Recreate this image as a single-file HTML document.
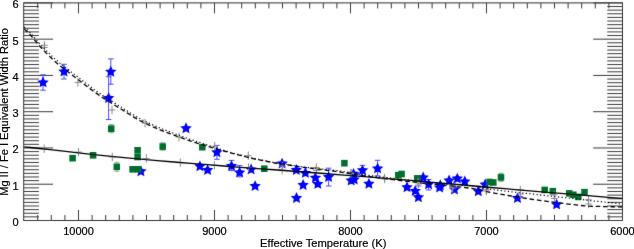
<!DOCTYPE html>
<html><head><meta charset="utf-8"><style>
html,body{margin:0;padding:0;background:#fff;overflow:hidden;}
svg{display:block;}
text{font-family:"Liberation Sans",sans-serif;font-size:11px;fill:#000;}
</style></head><body>
<svg width="634" height="249" viewBox="0 0 634 249">
<defs><filter id="t"><feOffset dx="0" dy="0"/></filter><filter id="b" x="-5%" y="-5%" width="110%" height="110%"><feConvolveMatrix order="3" kernelMatrix="0.0064 0.0672 0.0064 0.0672 0.7056 0.0672 0.0064 0.0672 0.0064" divisor="1" edgeMode="none"/></filter><filter id="a" x="-5%" y="-5%" width="110%" height="110%"><feConvolveMatrix order="3" kernelMatrix="0.0064 0.0672 0.0064 0.0672 0.7056 0.0672 0.0064 0.0672 0.0064" divisor="1" edgeMode="none"/></filter></defs>
<g filter="url(#a)">
<rect x="23.70" y="2.90" width="598.80" height="217.60" fill="none" stroke="#333" stroke-width="1"/>
<path d="M37.70,220.50V215.00M37.70,2.90V8.40M51.30,220.50V215.00M51.30,2.90V8.40M64.90,220.50V215.00M64.90,2.90V8.40M78.50,220.50V210.00M78.50,2.90V13.40M92.10,220.50V215.00M92.10,2.90V8.40M105.70,220.50V215.00M105.70,2.90V8.40M119.30,220.50V215.00M119.30,2.90V8.40M132.90,220.50V215.00M132.90,2.90V8.40M146.50,220.50V215.00M146.50,2.90V8.40M160.10,220.50V215.00M160.10,2.90V8.40M173.70,220.50V215.00M173.70,2.90V8.40M187.30,220.50V215.00M187.30,2.90V8.40M200.90,220.50V215.00M200.90,2.90V8.40M214.50,220.50V210.00M214.50,2.90V13.40M228.10,220.50V215.00M228.10,2.90V8.40M241.70,220.50V215.00M241.70,2.90V8.40M255.30,220.50V215.00M255.30,2.90V8.40M268.90,220.50V215.00M268.90,2.90V8.40M282.50,220.50V215.00M282.50,2.90V8.40M296.10,220.50V215.00M296.10,2.90V8.40M309.70,220.50V215.00M309.70,2.90V8.40M323.30,220.50V215.00M323.30,2.90V8.40M336.90,220.50V215.00M336.90,2.90V8.40M350.50,220.50V210.00M350.50,2.90V13.40M364.10,220.50V215.00M364.10,2.90V8.40M377.70,220.50V215.00M377.70,2.90V8.40M391.30,220.50V215.00M391.30,2.90V8.40M404.90,220.50V215.00M404.90,2.90V8.40M418.50,220.50V215.00M418.50,2.90V8.40M432.10,220.50V215.00M432.10,2.90V8.40M445.70,220.50V215.00M445.70,2.90V8.40M459.30,220.50V215.00M459.30,2.90V8.40M472.90,220.50V215.00M472.90,2.90V8.40M486.50,220.50V210.00M486.50,2.90V13.40M500.10,220.50V215.00M500.10,2.90V8.40M513.70,220.50V215.00M513.70,2.90V8.40M527.30,220.50V215.00M527.30,2.90V8.40M540.90,220.50V215.00M540.90,2.90V8.40M554.50,220.50V215.00M554.50,2.90V8.40M568.10,220.50V215.00M568.10,2.90V8.40M581.70,220.50V215.00M581.70,2.90V8.40M595.30,220.50V215.00M595.30,2.90V8.40M608.90,220.50V215.00M608.90,2.90V8.40M622.50,220.50V210.00M622.50,2.90V13.40M23.70,220.50H53.00M622.50,220.50H593.20M23.70,216.87H38.90M622.50,216.87H607.30M23.70,213.25H38.90M622.50,213.25H607.30M23.70,209.62H38.90M622.50,209.62H607.30M23.70,205.99H38.90M622.50,205.99H607.30M23.70,202.37H38.90M622.50,202.37H607.30M23.70,198.74H38.90M622.50,198.74H607.30M23.70,195.11H38.90M622.50,195.11H607.30M23.70,191.49H38.90M622.50,191.49H607.30M23.70,187.86H38.90M622.50,187.86H607.30M23.70,184.23H53.00M622.50,184.23H593.20M23.70,180.61H38.90M622.50,180.61H607.30M23.70,176.98H38.90M622.50,176.98H607.30M23.70,173.35H38.90M622.50,173.35H607.30M23.70,169.73H38.90M622.50,169.73H607.30M23.70,166.10H38.90M622.50,166.10H607.30M23.70,162.47H38.90M622.50,162.47H607.30M23.70,158.85H38.90M622.50,158.85H607.30M23.70,155.22H38.90M622.50,155.22H607.30M23.70,151.59H38.90M622.50,151.59H607.30M23.70,147.97H53.00M622.50,147.97H593.20M23.70,144.34H38.90M622.50,144.34H607.30M23.70,140.71H38.90M622.50,140.71H607.30M23.70,137.09H38.90M622.50,137.09H607.30M23.70,133.46H38.90M622.50,133.46H607.30M23.70,129.83H38.90M622.50,129.83H607.30M23.70,126.21H38.90M622.50,126.21H607.30M23.70,122.58H38.90M622.50,122.58H607.30M23.70,118.95H38.90M622.50,118.95H607.30M23.70,115.33H38.90M622.50,115.33H607.30M23.70,111.70H53.00M622.50,111.70H593.20M23.70,108.07H38.90M622.50,108.07H607.30M23.70,104.45H38.90M622.50,104.45H607.30M23.70,100.82H38.90M622.50,100.82H607.30M23.70,97.19H38.90M622.50,97.19H607.30M23.70,93.57H38.90M622.50,93.57H607.30M23.70,89.94H38.90M622.50,89.94H607.30M23.70,86.31H38.90M622.50,86.31H607.30M23.70,82.69H38.90M622.50,82.69H607.30M23.70,79.06H38.90M622.50,79.06H607.30M23.70,75.43H53.00M622.50,75.43H593.20M23.70,71.81H38.90M622.50,71.81H607.30M23.70,68.18H38.90M622.50,68.18H607.30M23.70,64.55H38.90M622.50,64.55H607.30M23.70,60.93H38.90M622.50,60.93H607.30M23.70,57.30H38.90M622.50,57.30H607.30M23.70,53.67H38.90M622.50,53.67H607.30M23.70,50.05H38.90M622.50,50.05H607.30M23.70,46.42H38.90M622.50,46.42H607.30M23.70,42.79H38.90M622.50,42.79H607.30M23.70,39.17H53.00M622.50,39.17H593.20M23.70,35.54H38.90M622.50,35.54H607.30M23.70,31.91H38.90M622.50,31.91H607.30M23.70,28.29H38.90M622.50,28.29H607.30M23.70,24.66H38.90M622.50,24.66H607.30M23.70,21.03H38.90M622.50,21.03H607.30M23.70,17.41H38.90M622.50,17.41H607.30M23.70,13.78H38.90M622.50,13.78H607.30M23.70,10.15H38.90M622.50,10.15H607.30M23.70,6.53H38.90M622.50,6.53H607.30M23.70,2.90H53.00M622.50,2.90H593.20" stroke="#3c3c3c" stroke-width="1" fill="none"/>
</g>
<g filter="url(#b)">
<path d="M43.00,74.80V90.20M40.20,74.80h5.6M40.20,90.20h5.6" stroke="#4a4aff" stroke-width="1" fill="none"/>
<path d="M64.00,64.30V79.00M61.20,64.30h5.6M61.20,79.00h5.6" stroke="#4a4aff" stroke-width="1" fill="none"/>
<path d="M110.80,58.90V84.20M108.00,58.90h5.6M108.00,84.20h5.6" stroke="#4a4aff" stroke-width="1" fill="none"/>
<path d="M108.60,76.80V119.50M105.80,76.80h5.6M105.80,119.50h5.6" stroke="#4a4aff" stroke-width="1" fill="none"/>
<path d="M216.90,145.40V159.30M214.10,145.40h5.6M214.10,159.30h5.6" stroke="#4a4aff" stroke-width="1" fill="none"/>
<path d="M231.50,160.40V170.60M228.70,160.40h5.6M228.70,170.60h5.6" stroke="#4a4aff" stroke-width="1" fill="none"/>
<path d="M239.60,165.60V176.90M236.80,165.60h5.6M236.80,176.90h5.6" stroke="#4a4aff" stroke-width="1" fill="none"/>
<path d="M328.60,168.20V186.00M325.80,168.20h5.6M325.80,186.00h5.6" stroke="#4a4aff" stroke-width="1" fill="none"/>
<path d="M362.50,165.40V175.40M359.70,165.40h5.6M359.70,175.40h5.6" stroke="#4a4aff" stroke-width="1" fill="none"/>
<path d="M377.60,160.30V175.90M374.80,160.30h5.6M374.80,175.90h5.6" stroke="#4a4aff" stroke-width="1" fill="none"/>
<path d="M428.60,179.50V190.00M425.80,179.50h5.6M425.80,190.00h5.6" stroke="#4a4aff" stroke-width="1" fill="none"/>
<path d="M418.60,176.00V186.00M415.80,176.00h5.6M415.80,186.00h5.6" stroke="#4a4aff" stroke-width="1" fill="none"/>
<path d="M43.00,76.50 L44.70,80.15 L48.71,80.65 L45.76,83.40 L46.53,87.35 L43.00,85.40 L39.47,87.35 L40.24,83.40 L37.29,80.65 L41.30,80.15Z" fill="#0000ff"/>
<path d="M64.00,65.60 L65.70,69.25 L69.71,69.75 L66.76,72.50 L67.53,76.45 L64.00,74.50 L60.47,76.45 L61.24,72.50 L58.29,69.75 L62.30,69.25Z" fill="#0000ff"/>
<path d="M110.80,65.80 L112.50,69.45 L116.51,69.95 L113.56,72.70 L114.33,76.65 L110.80,74.70 L107.27,76.65 L108.04,72.70 L105.09,69.95 L109.10,69.45Z" fill="#0000ff"/>
<path d="M108.60,92.20 L110.30,95.85 L114.31,96.35 L111.36,99.10 L112.13,103.05 L108.60,101.10 L105.07,103.05 L105.84,99.10 L102.89,96.35 L106.90,95.85Z" fill="#0000ff"/>
<path d="M186.00,122.30 L187.70,125.95 L191.71,126.45 L188.76,129.20 L189.53,133.15 L186.00,131.20 L182.47,133.15 L183.24,129.20 L180.29,126.45 L184.30,125.95Z" fill="#0000ff"/>
<path d="M140.90,165.40 L142.60,169.05 L146.61,169.55 L143.66,172.30 L144.43,176.25 L140.90,174.30 L137.37,176.25 L138.14,172.30 L135.19,169.55 L139.20,169.05Z" fill="#0000ff"/>
<path d="M199.90,160.40 L201.60,164.05 L205.61,164.55 L202.66,167.30 L203.43,171.25 L199.90,169.30 L196.37,171.25 L197.14,167.30 L194.19,164.55 L198.20,164.05Z" fill="#0000ff"/>
<path d="M207.60,164.20 L209.30,167.85 L213.31,168.35 L210.36,171.10 L211.13,175.05 L207.60,173.10 L204.07,175.05 L204.84,171.10 L201.89,168.35 L205.90,167.85Z" fill="#0000ff"/>
<path d="M216.90,146.40 L218.60,150.05 L222.61,150.55 L219.66,153.30 L220.43,157.25 L216.90,155.30 L213.37,157.25 L214.14,153.30 L211.19,150.55 L215.20,150.05Z" fill="#0000ff"/>
<path d="M231.50,160.00 L233.20,163.65 L237.21,164.15 L234.26,166.90 L235.03,170.85 L231.50,168.90 L227.97,170.85 L228.74,166.90 L225.79,164.15 L229.80,163.65Z" fill="#0000ff"/>
<path d="M239.60,166.50 L241.30,170.15 L245.31,170.65 L242.36,173.40 L243.13,177.35 L239.60,175.40 L236.07,177.35 L236.84,173.40 L233.89,170.65 L237.90,170.15Z" fill="#0000ff"/>
<path d="M251.10,163.50 L252.80,167.15 L256.81,167.65 L253.86,170.40 L254.63,174.35 L251.10,172.40 L247.57,174.35 L248.34,170.40 L245.39,167.65 L249.40,167.15Z" fill="#0000ff"/>
<path d="M255.10,180.20 L256.80,183.85 L260.81,184.35 L257.86,187.10 L258.63,191.05 L255.10,189.10 L251.57,191.05 L252.34,187.10 L249.39,184.35 L253.40,183.85Z" fill="#0000ff"/>
<path d="M282.10,157.70 L283.80,161.35 L287.81,161.85 L284.86,164.60 L285.63,168.55 L282.10,166.60 L278.57,168.55 L279.34,164.60 L276.39,161.85 L280.40,161.35Z" fill="#0000ff"/>
<path d="M296.30,164.10 L298.00,167.75 L302.01,168.25 L299.06,171.00 L299.83,174.95 L296.30,173.00 L292.77,174.95 L293.54,171.00 L290.59,168.25 L294.60,167.75Z" fill="#0000ff"/>
<path d="M305.40,167.00 L307.10,170.65 L311.11,171.15 L308.16,173.90 L308.93,177.85 L305.40,175.90 L301.87,177.85 L302.64,173.90 L299.69,171.15 L303.70,170.65Z" fill="#0000ff"/>
<path d="M315.40,171.80 L317.10,175.45 L321.11,175.95 L318.16,178.70 L318.93,182.65 L315.40,180.70 L311.87,182.65 L312.64,178.70 L309.69,175.95 L313.70,175.45Z" fill="#0000ff"/>
<path d="M317.80,178.00 L319.50,181.65 L323.51,182.15 L320.56,184.90 L321.33,188.85 L317.80,186.90 L314.27,188.85 L315.04,184.90 L312.09,182.15 L316.10,181.65Z" fill="#0000ff"/>
<path d="M303.10,179.10 L304.80,182.75 L308.81,183.25 L305.86,186.00 L306.63,189.95 L303.10,188.00 L299.57,189.95 L300.34,186.00 L297.39,183.25 L301.40,182.75Z" fill="#0000ff"/>
<path d="M296.50,192.10 L298.20,195.75 L302.21,196.25 L299.26,199.00 L300.03,202.95 L296.50,201.00 L292.97,202.95 L293.74,199.00 L290.79,196.25 L294.80,195.75Z" fill="#0000ff"/>
<path d="M328.60,171.20 L330.30,174.85 L334.31,175.35 L331.36,178.10 L332.13,182.05 L328.60,180.10 L325.07,182.05 L325.84,178.10 L322.89,175.35 L326.90,174.85Z" fill="#0000ff"/>
<path d="M353.50,167.90 L355.20,171.55 L359.21,172.05 L356.26,174.80 L357.03,178.75 L353.50,176.80 L349.97,178.75 L350.74,174.80 L347.79,172.05 L351.80,171.55Z" fill="#0000ff"/>
<path d="M351.20,174.60 L352.90,178.25 L356.91,178.75 L353.96,181.50 L354.73,185.45 L351.20,183.50 L347.67,185.45 L348.44,181.50 L345.49,178.75 L349.50,178.25Z" fill="#0000ff"/>
<path d="M354.20,173.60 L355.90,177.25 L359.91,177.75 L356.96,180.50 L357.73,184.45 L354.20,182.50 L350.67,184.45 L351.44,180.50 L348.49,177.75 L352.50,177.25Z" fill="#0000ff"/>
<path d="M362.50,164.40 L364.20,168.05 L368.21,168.55 L365.26,171.30 L366.03,175.25 L362.50,173.30 L358.97,175.25 L359.74,171.30 L356.79,168.55 L360.80,168.05Z" fill="#0000ff"/>
<path d="M368.90,177.90 L370.60,181.55 L374.61,182.05 L371.66,184.80 L372.43,188.75 L368.90,186.80 L365.37,188.75 L366.14,184.80 L363.19,182.05 L367.20,181.55Z" fill="#0000ff"/>
<path d="M377.60,162.50 L379.30,166.15 L383.31,166.65 L380.36,169.40 L381.13,173.35 L377.60,171.40 L374.07,173.35 L374.84,169.40 L371.89,166.65 L375.90,166.15Z" fill="#0000ff"/>
<path d="M407.00,181.30 L408.70,184.95 L412.71,185.45 L409.76,188.20 L410.53,192.15 L407.00,190.20 L403.47,192.15 L404.24,188.20 L401.29,185.45 L405.30,184.95Z" fill="#0000ff"/>
<path d="M415.20,185.00 L416.90,188.65 L420.91,189.15 L417.96,191.90 L418.73,195.85 L415.20,193.90 L411.67,195.85 L412.44,191.90 L409.49,189.15 L413.50,188.65Z" fill="#0000ff"/>
<path d="M418.40,191.40 L420.10,195.05 L424.11,195.55 L421.16,198.30 L421.93,202.25 L418.40,200.30 L414.87,202.25 L415.64,198.30 L412.69,195.55 L416.70,195.05Z" fill="#0000ff"/>
<path d="M423.20,171.60 L424.90,175.25 L428.91,175.75 L425.96,178.50 L426.73,182.45 L423.20,180.50 L419.67,182.45 L420.44,178.50 L417.49,175.75 L421.50,175.25Z" fill="#0000ff"/>
<path d="M428.60,178.40 L430.30,182.05 L434.31,182.55 L431.36,185.30 L432.13,189.25 L428.60,187.30 L425.07,189.25 L425.84,185.30 L422.89,182.55 L426.90,182.05Z" fill="#0000ff"/>
<path d="M439.60,181.60 L441.30,185.25 L445.31,185.75 L442.36,188.50 L443.13,192.45 L439.60,190.50 L436.07,192.45 L436.84,188.50 L433.89,185.75 L437.90,185.25Z" fill="#0000ff"/>
<path d="M440.30,179.30 L442.00,182.95 L446.01,183.45 L443.06,186.20 L443.83,190.15 L440.30,188.20 L436.77,190.15 L437.54,186.20 L434.59,183.45 L438.60,182.95Z" fill="#0000ff"/>
<path d="M449.10,174.60 L450.80,178.25 L454.81,178.75 L451.86,181.50 L452.63,185.45 L449.10,183.50 L445.57,185.45 L446.34,181.50 L443.39,178.75 L447.40,178.25Z" fill="#0000ff"/>
<path d="M457.30,172.70 L459.00,176.35 L463.01,176.85 L460.06,179.60 L460.83,183.55 L457.30,181.60 L453.77,183.55 L454.54,179.60 L451.59,176.85 L455.60,176.35Z" fill="#0000ff"/>
<path d="M464.80,175.50 L466.50,179.15 L470.51,179.65 L467.56,182.40 L468.33,186.35 L464.80,184.40 L461.27,186.35 L462.04,182.40 L459.09,179.65 L463.10,179.15Z" fill="#0000ff"/>
<path d="M454.50,183.70 L456.20,187.35 L460.21,187.85 L457.26,190.60 L458.03,194.55 L454.50,192.60 L450.97,194.55 L451.74,190.60 L448.79,187.85 L452.80,187.35Z" fill="#0000ff"/>
<path d="M478.30,185.30 L480.00,188.95 L484.01,189.45 L481.06,192.20 L481.83,196.15 L478.30,194.20 L474.77,196.15 L475.54,192.20 L472.59,189.45 L476.60,188.95Z" fill="#0000ff"/>
<path d="M485.20,178.60 L486.90,182.25 L490.91,182.75 L487.96,185.50 L488.73,189.45 L485.20,187.50 L481.67,189.45 L482.44,185.50 L479.49,182.75 L483.50,182.25Z" fill="#0000ff"/>
<path d="M517.50,192.20 L519.20,195.85 L523.21,196.35 L520.26,199.10 L521.03,203.05 L517.50,201.10 L513.97,203.05 L514.74,199.10 L511.79,196.35 L515.80,195.85Z" fill="#0000ff"/>
<path d="M556.60,198.50 L558.30,202.15 L562.31,202.65 L559.36,205.40 L560.13,209.35 L556.60,207.40 L553.07,209.35 L553.84,205.40 L550.89,202.65 L554.90,202.15Z" fill="#0000ff"/>
<path d="M108.80,124.60h4.8M111.20,124.60V132.80M108.80,132.80h4.8" stroke="#066e2d" stroke-opacity="0.5" stroke-width="1.1" fill="none"/>
<rect x="107.95" y="125.40" width="6.5" height="6.6" fill="#066e2d"/>
<rect x="69.35" y="154.90" width="6.5" height="6.6" fill="#066e2d"/>
<rect x="89.85" y="152.00" width="6.5" height="6.6" fill="#066e2d"/>
<path d="M114.40,162.30h4.8M116.80,162.30V171.30M114.40,171.30h4.8" stroke="#066e2d" stroke-opacity="0.5" stroke-width="1.1" fill="none"/>
<rect x="113.55" y="163.50" width="6.5" height="6.6" fill="#066e2d"/>
<rect x="134.35" y="147.00" width="6.5" height="6.6" fill="#066e2d"/>
<rect x="134.35" y="153.70" width="6.5" height="6.6" fill="#066e2d"/>
<rect x="129.35" y="166.00" width="6.5" height="6.6" fill="#066e2d"/>
<rect x="134.95" y="166.00" width="6.5" height="6.6" fill="#066e2d"/>
<path d="M160.30,142.90h4.8M162.70,142.90V150.30M160.30,150.30h4.8" stroke="#066e2d" stroke-opacity="0.5" stroke-width="1.1" fill="none"/>
<rect x="159.45" y="143.30" width="6.5" height="6.6" fill="#066e2d"/>
<rect x="199.05" y="143.90" width="6.5" height="6.6" fill="#066e2d"/>
<rect x="261.05" y="165.40" width="6.5" height="6.6" fill="#066e2d"/>
<rect x="341.15" y="159.90" width="6.5" height="6.6" fill="#066e2d"/>
<rect x="395.05" y="171.90" width="6.5" height="6.6" fill="#066e2d"/>
<rect x="398.35" y="170.70" width="6.5" height="6.6" fill="#066e2d"/>
<rect x="413.95" y="175.10" width="6.5" height="6.6" fill="#066e2d"/>
<rect x="486.25" y="178.70" width="6.5" height="6.6" fill="#066e2d"/>
<rect x="490.05" y="179.20" width="6.5" height="6.6" fill="#066e2d"/>
<path d="M498.60,173.40h4.8M501.00,173.40V181.40M498.60,181.40h4.8" stroke="#066e2d" stroke-opacity="0.5" stroke-width="1.1" fill="none"/>
<rect x="497.75" y="174.10" width="6.5" height="6.6" fill="#066e2d"/>
<rect x="541.45" y="186.60" width="6.5" height="6.6" fill="#066e2d"/>
<rect x="549.55" y="187.90" width="6.5" height="6.6" fill="#066e2d"/>
<rect x="565.95" y="190.10" width="6.5" height="6.6" fill="#066e2d"/>
<rect x="570.15" y="191.50" width="6.5" height="6.6" fill="#066e2d"/>
<rect x="575.05" y="193.60" width="6.5" height="6.6" fill="#066e2d"/>
<rect x="581.25" y="188.90" width="6.5" height="6.6" fill="#066e2d"/>
<path d="M41.10,45.30h6.6M44.40,41.10v8.4" stroke="#8a8a8a" stroke-width="1" fill="none"/>
<path d="M41.10,47.50h6.6M44.40,43.30v8.4" stroke="#8a8a8a" stroke-width="1" fill="none"/>
<path d="M74.60,82.40h6.6M77.90,78.20v8.4" stroke="#8a8a8a" stroke-width="1" fill="none"/>
<path d="M108.70,110.00h6.6M112.00,105.80v8.4" stroke="#8a8a8a" stroke-width="1" fill="none"/>
<path d="M141.70,123.10h6.6M145.00,118.90v8.4" stroke="#8a8a8a" stroke-width="1" fill="none"/>
<path d="M175.70,137.00h6.6M179.00,132.80v8.4" stroke="#8a8a8a" stroke-width="1" fill="none"/>
<path d="M211.40,146.10h6.6M214.70,141.90v8.4" stroke="#8a8a8a" stroke-width="1" fill="none"/>
<path d="M245.00,155.70h6.6M248.30,151.50v8.4" stroke="#8a8a8a" stroke-width="1" fill="none"/>
<path d="M313.00,167.50h6.6M316.30,163.30v8.4" stroke="#8a8a8a" stroke-width="1" fill="none"/>
<path d="M40.90,148.70h6.6M44.20,144.50v8.4" stroke="#8a8a8a" stroke-width="1" fill="none"/>
<path d="M75.20,152.10h6.6M78.50,147.90v8.4" stroke="#8a8a8a" stroke-width="1" fill="none"/>
<path d="M109.00,157.00h6.6M112.30,152.80v8.4" stroke="#8a8a8a" stroke-width="1" fill="none"/>
<path d="M143.10,158.50h6.6M146.40,154.30v8.4" stroke="#8a8a8a" stroke-width="1" fill="none"/>
<path d="M177.00,162.60h6.6M180.30,158.40v8.4" stroke="#8a8a8a" stroke-width="1" fill="none"/>
<path d="M211.10,165.30h6.6M214.40,161.10v8.4" stroke="#8a8a8a" stroke-width="1" fill="none"/>
<path d="M245.20,167.50h6.6M248.50,163.30v8.4" stroke="#8a8a8a" stroke-width="1" fill="none"/>
<path d="M278.80,170.10h6.6M282.10,165.90v8.4" stroke="#8a8a8a" stroke-width="1" fill="none"/>
<path d="M313.20,170.50h6.6M316.50,166.30v8.4" stroke="#8a8a8a" stroke-width="1" fill="none"/>
<path d="M347.70,173.00h6.6M351.00,168.80v8.4" stroke="#8a8a8a" stroke-width="1" fill="none"/>
<path d="M381.30,178.00h6.6M384.60,173.80v8.4" stroke="#8a8a8a" stroke-width="1" fill="none"/>
<path d="M414.70,182.00h6.6M418.00,177.80v8.4" stroke="#8a8a8a" stroke-width="1" fill="none"/>
<path d="M450.00,185.10h6.6M453.30,180.90v8.4" stroke="#8a8a8a" stroke-width="1" fill="none"/>
<path d="M482.80,189.70h6.6M486.10,185.50v8.4" stroke="#8a8a8a" stroke-width="1" fill="none"/>
<path d="M517.00,190.00h6.6M520.30,185.80v8.4" stroke="#8a8a8a" stroke-width="1" fill="none"/>
<path d="M550.90,195.00h6.6M554.20,190.80v8.4" stroke="#8a8a8a" stroke-width="1" fill="none"/>
<path d="M585.30,199.80h6.6M588.60,195.60v8.4" stroke="#8a8a8a" stroke-width="1" fill="none"/>
<path d="M279.00,166.00h6.6M282.30,161.80v8.4" stroke="#8a8a8a" stroke-width="1" fill="none"/>
<path d="M347.70,173.50h6.6M351.00,169.30v8.4" stroke="#8a8a8a" stroke-width="1" fill="none"/>
<path d="M381.30,179.00h6.6M384.60,174.80v8.4" stroke="#8a8a8a" stroke-width="1" fill="none"/>
<path d="M415.20,184.00h6.6M418.50,179.80v8.4" stroke="#8a8a8a" stroke-width="1" fill="none"/>
<path d="M449.20,188.00h6.6M452.50,183.80v8.4" stroke="#8a8a8a" stroke-width="1" fill="none"/>
<path d="M483.20,191.00h6.6M486.50,186.80v8.4" stroke="#8a8a8a" stroke-width="1" fill="none"/>
<path d="M517.20,194.00h6.6M520.50,189.80v8.4" stroke="#8a8a8a" stroke-width="1" fill="none"/>
<path d="M551.10,198.50h6.6M554.40,194.30v8.4" stroke="#8a8a8a" stroke-width="1" fill="none"/>
<path d="M585.20,204.00h6.6M588.50,199.80v8.4" stroke="#8a8a8a" stroke-width="1" fill="none"/>
<path d="M24.20,146.80 L35.06,148.00 L50.07,149.69 L67.85,151.68 L87.02,153.78 L106.20,155.81 L124.00,157.60 L140.66,159.15 L157.32,160.61 L173.99,162.01 L190.66,163.36 L207.33,164.68 L224.00,166.00 L240.67,167.30 L257.33,168.54 L274.00,169.77 L290.67,170.99 L307.33,172.23 L324.00,173.50 L340.67,174.81 L357.33,176.13 L374.00,177.47 L390.67,178.83 L407.33,180.20 L424.00,181.60 L440.69,183.04 L457.41,184.51 L474.12,186.01 L490.81,187.50 L507.45,188.97 L524.00,190.40 L541.58,191.87 L560.44,193.42 L579.25,194.95 L596.67,196.36 L611.36,197.54 L622.00,198.40" fill="none" stroke="#000" stroke-width="1.3"/>
<path d="M24.20,27.00 L24.78,27.51 L25.54,28.15 L26.47,28.94 L27.53,29.90 L28.72,31.03 L30.00,32.36 L31.37,33.91 L32.83,35.67 L34.41,37.60 L36.14,39.68 L38.03,41.87 L40.10,44.13 L42.33,46.48 L44.70,48.97 L47.24,51.56 L49.96,54.23 L52.91,57.07 L56.10,59.95 L59.67,62.96 L63.63,66.13 L67.80,69.37 L72.03,72.59 L76.15,75.71 L80.00,78.64 L83.51,81.35 L86.81,83.89 L89.99,86.34 L93.18,88.73 L96.48,91.14 L100.00,93.61 L103.86,96.20 L108.00,98.88 L112.25,101.57 L116.44,104.19 L120.42,106.66 L124.00,108.90 L127.08,110.85 L129.78,112.58 L132.25,114.16 L134.67,115.66 L137.19,117.15 L140.00,118.69 L143.02,120.26 L146.09,121.79 L149.28,123.31 L152.63,124.84 L156.19,126.39 L160.00,128.00 L164.31,129.74 L169.12,131.61 L174.14,133.51 L179.08,135.34 L183.63,137.00 L187.50,138.41 L190.66,139.52 L193.33,140.43 L195.61,141.17 L197.62,141.79 L199.45,142.36 L201.20,142.94 L202.69,143.47 L203.80,143.85 L204.74,144.17 L205.70,144.49 L206.88,144.88 L208.50,145.41 L210.49,146.06 L212.67,146.78 L215.08,147.56 L217.75,148.42 L220.71,149.36 L224.00,150.38 L227.87,151.57 L232.35,152.87 L237.12,154.16 L241.87,155.43 L246.27,156.58 L250.00,157.53 L253.00,158.24 L255.50,158.79 L257.66,159.23 L259.61,159.60 L261.51,159.95 L263.50,160.35 L265.48,160.76 L267.32,161.15 L269.11,161.53 L270.92,161.90 L272.86,162.28 L275.00,162.66 L277.39,163.06 L279.97,163.47 L282.67,163.88 L285.42,164.28 L288.15,164.69 L290.80,165.09 L293.34,165.48 L295.81,165.87 L298.26,166.26 L300.75,166.63 L303.31,166.97 L306.00,167.29 L308.84,167.62 L311.79,167.93 L314.82,168.23 L317.90,168.54 L320.97,168.86 L324.00,169.18 L326.88,169.49 L329.63,169.79 L332.38,170.10 L335.26,170.43 L338.42,170.81 L342.00,171.29 L345.83,171.86 L349.78,172.49 L354.00,173.18 L358.67,173.92 L363.94,174.70 L370.00,175.51 L377.06,176.39 L385.04,177.35 L393.62,178.35 L402.52,179.36 L411.41,180.36 L420.00,181.30 L428.68,182.07 L437.78,182.82 L446.88,183.55 L455.56,184.26 L463.40,184.95 L470.00,185.63 L474.84,186.25 L478.15,186.82 L480.62,187.37 L482.96,187.94 L485.86,188.57 L490.00,189.30 L495.39,189.96 L501.48,190.69 L508.12,191.46 L515.19,192.24 L522.52,193.00 L530.00,193.70 L538.10,194.68 L547.04,195.71 L556.25,196.73 L565.19,197.67 L573.29,198.48 L580.00,199.10 L585.05,199.96 L588.81,200.51 L591.75,200.84 L594.30,201.07 L596.90,201.29 L600.00,201.60 L603.81,202.04 L608.00,202.51 L612.25,202.96 L616.22,203.39 L619.58,203.74 L622.00,204.00" fill="none" stroke="#000" stroke-width="1.2" stroke-dasharray="1.2,2.4"/>
<path d="M24.20,29.00 L24.78,29.52 L25.54,30.19 L26.47,31.00 L27.53,31.98 L28.72,33.14 L30.00,34.50 L31.37,36.08 L32.83,37.87 L34.41,39.84 L36.14,41.96 L38.03,44.19 L40.10,46.50 L42.33,48.91 L44.70,51.44 L47.24,54.09 L49.96,56.83 L52.91,59.64 L56.10,62.50 L59.67,65.48 L63.63,68.62 L67.80,71.83 L72.03,75.01 L76.15,78.10 L80.00,81.00 L83.51,83.68 L86.81,86.20 L89.99,88.61 L93.18,90.98 L96.48,93.36 L100.00,95.80 L103.86,98.36 L108.00,101.01 L112.25,103.67 L116.44,106.26 L120.42,108.69 L124.00,110.90 L127.08,112.83 L129.78,114.55 L132.25,116.12 L134.67,117.60 L137.19,119.07 L140.00,120.60 L143.02,122.15 L146.09,123.67 L149.28,125.17 L152.63,126.68 L156.19,128.21 L160.00,129.80 L164.31,131.51 L169.12,133.34 L174.14,135.20 L179.08,136.99 L183.63,138.62 L187.50,140.00 L190.66,141.09 L193.33,141.98 L195.61,142.70 L197.62,143.31 L199.45,143.86 L201.20,144.40 L202.69,144.87 L203.80,145.21 L204.74,145.50 L205.70,145.79 L206.88,146.13 L208.50,146.60 L210.49,147.18 L212.67,147.81 L215.08,148.51 L217.75,149.27 L220.71,150.10 L224.00,151.00 L227.87,152.05 L232.35,153.27 L237.12,154.55 L241.87,155.81 L246.27,156.96 L250.00,157.90 L253.00,158.61 L255.50,159.16 L257.66,159.59 L259.61,159.96 L261.51,160.31 L263.50,160.70 L265.48,161.11 L267.32,161.50 L269.11,161.88 L270.92,162.24 L272.86,162.62 L275.00,163.00 L277.39,163.40 L279.97,163.80 L282.67,164.20 L285.42,164.60 L288.15,165.00 L290.80,165.40 L293.34,165.79 L295.81,166.18 L298.26,166.56 L300.75,166.94 L303.31,167.32 L306.00,167.70 L308.84,168.07 L311.79,168.43 L314.82,168.79 L317.90,169.16 L320.97,169.52 L324.00,169.90 L326.88,170.27 L329.63,170.61 L332.38,170.96 L335.26,171.34 L338.42,171.78 L342.00,172.30 L345.83,172.90 L349.78,173.56 L354.00,174.27 L358.67,175.03 L363.94,175.85 L370.00,176.70 L377.06,177.63 L385.04,178.63 L393.62,179.69 L402.52,180.76 L411.41,181.80 L420.00,182.80 L428.68,183.76 L437.78,184.70 L446.88,185.62 L455.56,186.52 L463.40,187.38 L470.00,188.20 L474.84,188.93 L478.15,189.57 L480.62,190.17 L482.96,190.79 L485.86,191.48 L490.00,192.30 L495.39,193.27 L501.48,194.35 L508.12,195.51 L515.19,196.69 L522.52,197.87 L530.00,199.00 L538.10,200.15 L547.04,201.36 L556.25,202.56 L565.19,203.68 L573.29,204.65 L580.00,205.40 L585.05,205.88 L588.81,206.15 L591.75,206.26 L594.30,206.30 L596.90,206.32 L600.00,206.40 L603.81,206.53 L608.00,206.65 L612.25,206.76 L616.22,206.86 L619.58,206.94 L622.00,207.00" fill="none" stroke="#000" stroke-width="1.3" stroke-dasharray="4.6,2.8"/>
</g>
<g filter="url(#t)" stroke="#000" stroke-width="0.2">
<text x="78.50" y="234.6" text-anchor="middle">10000</text>
<text x="214.50" y="234.6" text-anchor="middle">9000</text>
<text x="350.50" y="234.6" text-anchor="middle">8000</text>
<text x="486.50" y="234.6" text-anchor="middle">7000</text>
<text x="622.50" y="234.6" text-anchor="middle">6000</text>
<text x="18.6" y="226.00" text-anchor="end">0</text>
<text x="18.6" y="189.73" text-anchor="end">1</text>
<text x="18.6" y="153.47" text-anchor="end">2</text>
<text x="18.6" y="117.20" text-anchor="end">3</text>
<text x="18.6" y="80.93" text-anchor="end">4</text>
<text x="18.6" y="44.67" text-anchor="end">5</text>
<text x="18.6" y="8.40" text-anchor="end">6</text>
<text x="323.3" y="247.1" text-anchor="middle" style="font-size:11.2px">Effective Temperature (K)</text>
<text transform="translate(8.2,112.0) rotate(-90)" text-anchor="middle" style="font-size:11.05px">Mg II / Fe I Equivalent Width Ratio</text>
</g>
</svg>
</body></html>
